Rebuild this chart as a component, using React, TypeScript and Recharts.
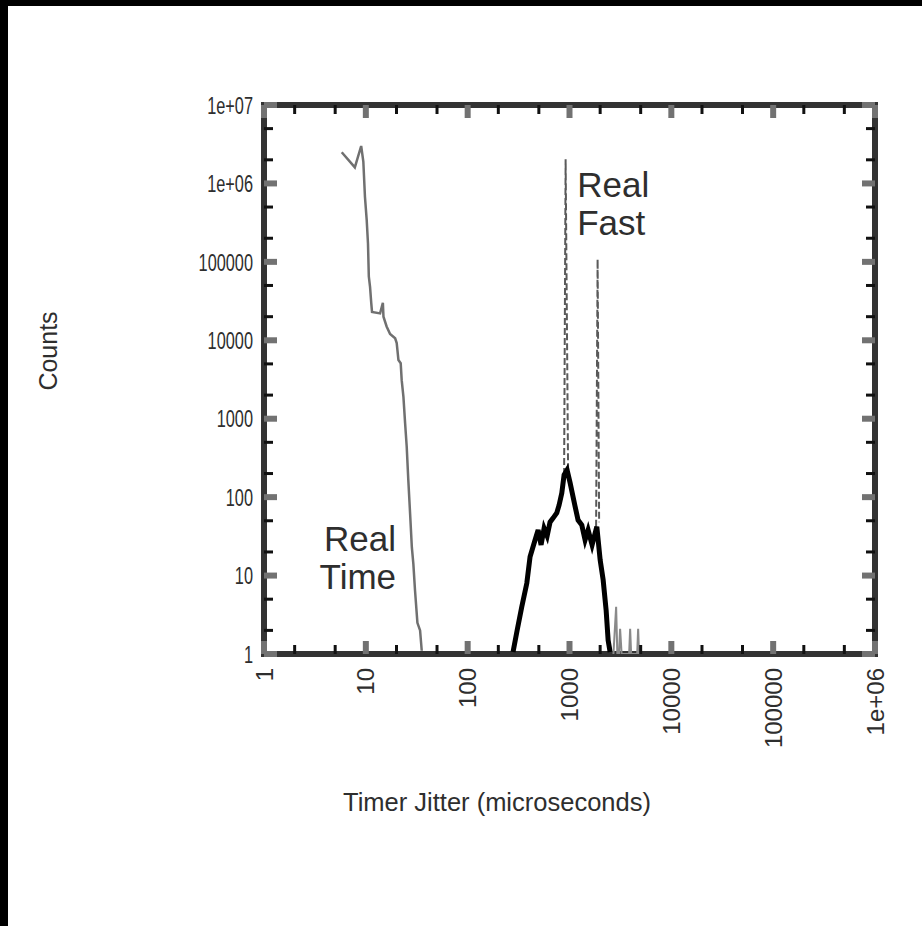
import React from "react";
import {
  LineChart,
  Line,
  XAxis,
  YAxis,
  ReferenceArea,
  ReferenceDot,
  Label,
} from "recharts";

const FONT = '"Liberation Sans", Arial, Helvetica, sans-serif';
const INK = "#2e2e2e";

// ticks at 1, 2, 5 of each decade; only powers of ten get a label
const xTickValues = [
  1, 2, 5, 10, 20, 50, 100, 200, 500, 1000, 2000, 5000, 10000, 20000, 50000,
  100000, 200000, 500000, 1000000,
];
const xTickLabels = ["1", "10", "100", "1000", "10000", "100000", "1e+06"];
const yTickValues = [
  1, 2, 5, 10, 20, 50, 100, 200, 500, 1000, 2000, 5000, 10000, 20000, 50000,
  100000, 200000, 500000, 1000000, 2000000, 5000000, 10000000,
];
const yTickLabels = [
  "1", "10", "100", "1000", "10000", "100000", "1e+06", "1e+07",
];

// "Real Time" histogram (microseconds, counts)
const realTimeJitter = [
  5.8, 7.8, 9.0, 9.45, 9.8, 10.2, 10.5, 10.7, 11.0, 11.3, 11.5, 13.8, 14.7,
  14.9, 16.0, 17.3, 19.4, 20.1, 20.9, 22.0, 22.5, 23.4, 24.3, 25.2, 26.1, 27.2,
  28.3, 29.3, 30.4, 32.1, 34.1, 35.4,
];
const realTimeCounts = [
  2.5e6, 1.6e6, 3.0e6, 1.9e6, 6.8e5, 3.4e5, 1.7e5, 6.5e4, 4.8e4, 3.0e4, 2.3e4,
  2.2e4, 3.0e4, 2.0e4, 1.5e4, 1.2e4, 1.06e4, 9200, 5600, 5100, 3100, 1900, 880,
  440, 170, 62, 23, 14, 6.5, 2.5, 2.0, 1.1,
];

// "Real Fast" histogram body
const realFastJitter = [
  279, 306, 340, 381, 410, 459, 492, 526, 563, 603, 644, 690, 750, 790, 840,
  885, 947, 1014, 1135, 1214, 1321, 1423, 1524, 1667, 1855, 2000, 2140, 2290,
  2395, 2505,
];
const realFastCounts = [
  1.06, 2.0, 4.0, 8.0, 17.4, 28.4, 38, 24.6, 40, 32, 48, 54, 63, 79, 113, 192,
  222, 152, 76, 51, 44, 28.4, 38, 24.6, 42, 15.8, 8.8, 3.6, 1.5, 1.06,
];

// the two narrow peaks of "Real Fast" (null splits them)
const spikeJitter = [885, 916, 969, 1400, 1825, 1888, 1954];
const spikeCounts = [192, 2.04e6, 200, null, 42, 1.08e5, 48];

// sparse counts beyond the body
const tailJitter = [2700, 2870, 2950, 3060, 3140, 3250, 3850, 3940, 4030, 4620, 4720, 4820];
const tailCounts = [1, 4, 1, 1, 2.1, 1, 1, 2.1, 1, 1, 2.1, 1];

const toPoints = (xs: number[], ys: (number | null)[]) =>
  xs.map((x, i) => ({ x, y: ys[i] }));

const realTime = toPoints(realTimeJitter, realTimeCounts);
const realFast = toPoints(realFastJitter, realFastCounts);
const spikes = toPoints(spikeJitter, spikeCounts);
const tail = toPoints(tailJitter, tailCounts);

const PLOT_W = 611;
const PLOT_H = 549;

const decade = (v: number) => {
  const p = Math.log10(v);
  return Math.abs(p - Math.round(p)) < 1e-6 ? Math.round(p) : -1;
};

const tickStyle = (major: boolean) => ({
  len: major ? 13 : 9,
  stroke: major ? "#727272" : "#111",
  w: major ? 6 : 3,
});

const XTick = (props: any) => {
  const { x, y, payload } = props;
  const d = decade(payload.value);
  const { len, stroke, w } = tickStyle(d >= 0);
  return (
    <g>
      <line x1={x} x2={x} y1={y} y2={y - len} stroke={stroke} strokeWidth={w} />
      <line x1={x} x2={x} y1={y - PLOT_H} y2={y - PLOT_H + len} stroke={stroke} strokeWidth={w} />
      {d >= 0 && (
        <text
          transform={`translate(${x},${y + 14}) rotate(-90)`}
          textAnchor="end"
          dy="0.36em"
          fontFamily={FONT}
          fontSize={24}
          fill={INK}
        >
          {xTickLabels[d]}
        </text>
      )}
    </g>
  );
};

const YTick = (props: any) => {
  const { x, y, payload } = props;
  const d = decade(payload.value);
  const { len, stroke, w } = tickStyle(d >= 0);
  return (
    <g>
      <line x1={x} x2={x + len} y1={y} y2={y} stroke={stroke} strokeWidth={w} />
      <line x1={x + PLOT_W} x2={x + PLOT_W - len} y1={y} y2={y} stroke={stroke} strokeWidth={w} />
      {d >= 0 && (
        <text
          transform={`translate(${x - 11},${y}) scale(0.68,1)`}
          dy="0.36em"
          textAnchor="end"
          fontFamily={FONT}
          fontSize={24}
          fill={INK}
        >
          {yTickLabels[d]}
        </text>
      )}
    </g>
  );
};

const twoLines = (a: string, b: string, anchor: "start" | "end") => (p: any) => {
  const { x, y } = p.viewBox;
  return (
    <text fontFamily={FONT} fontSize={35} fill={INK} textAnchor={anchor}>
      <tspan x={x} y={y}>{a}</tspan>
      <tspan x={x} y={y + 38}>{b}</tspan>
    </text>
  );
};

export default function App() {
  return (
    <div
      style={{
        position: "absolute",
        left: 0,
        top: 0,
        width: 922,
        height: 926,
        background: "#000",
      }}
    >
      <div style={{ position: "absolute", left: 8, top: 6, background: "#fff" }}>
        <LineChart
          width={914}
          height={920}
          margin={{ top: 99, right: 47, bottom: 172, left: 156 }}
        >
          <XAxis
            dataKey="x"
            type="number"
            scale="log"
            domain={[1, 1000000]}
            allowDataOverflow
            ticks={xTickValues}
            interval={0}
            tick={<XTick />}
            tickSize={0}
            tickMargin={0}
            tickLine={false}
            axisLine={false}
            height={100}
          >
            <Label
              content={(p: any) => (
                <text
                  x={p.viewBox.x + 79}
                  y={p.viewBox.y + 157}
                  textAnchor="start"
                  fontFamily={FONT}
                  fontSize={25.5}
                  fill={INK}
                >
                  Timer Jitter (microseconds)
                </text>
              )}
            />
          </XAxis>
          <YAxis
            dataKey="y"
            type="number"
            scale="log"
            domain={[1, 10000000]}
            allowDataOverflow
            ticks={yTickValues}
            interval={0}
            tick={<YTick />}
            tickSize={0}
            tickMargin={0}
            tickLine={false}
            axisLine={false}
            width={100}
          >
            <Label
              content={(p: any) => (
                <text
                  transform={`translate(${p.viewBox.x - 107},${p.viewBox.y + 246}) rotate(-90)`}
                  textAnchor="middle"
                  fontFamily={FONT}
                  fontSize={25}
                  fill={INK}
                >
                  Counts
                </text>
              )}
            />
          </YAxis>
          <Line
            data={realTime}
            dataKey="y"
            type="linear"
            stroke="#707070"
            strokeWidth={2.5}
            dot={false}
            isAnimationActive={false}
          />
          <Line
            data={spikes}
            dataKey="y"
            type="linear"
            stroke="#5a5a5a"
            strokeWidth={2}
            strokeDasharray="7 3"
            dot={false}
            isAnimationActive={false}
          />
          <Line
            data={realFast}
            dataKey="y"
            type="linear"
            stroke="#000"
            strokeWidth={5}
            dot={false}
            isAnimationActive={false}
          />
          <Line
            data={tail}
            dataKey="y"
            type="linear"
            stroke="#8a8a8a"
            strokeWidth={2}
            dot={false}
            isAnimationActive={false}
          />
          <ReferenceDot x={1190} y={6.7e5} r={0} stroke="none" label={{ content: twoLines("Real", "Fast", "start") }} />
          <ReferenceDot x={19.8} y={20.6} r={0} stroke="none" label={{ content: twoLines("Real", "Time", "end") }} />
          <ReferenceArea
            x1={1}
            x2={1000000}
            y1={1}
            y2={10000000}
            fill="none"
            fillOpacity={0}
            stroke="#333"
            strokeWidth={6}
          />
        </LineChart>
      </div>
    </div>
  );
}
